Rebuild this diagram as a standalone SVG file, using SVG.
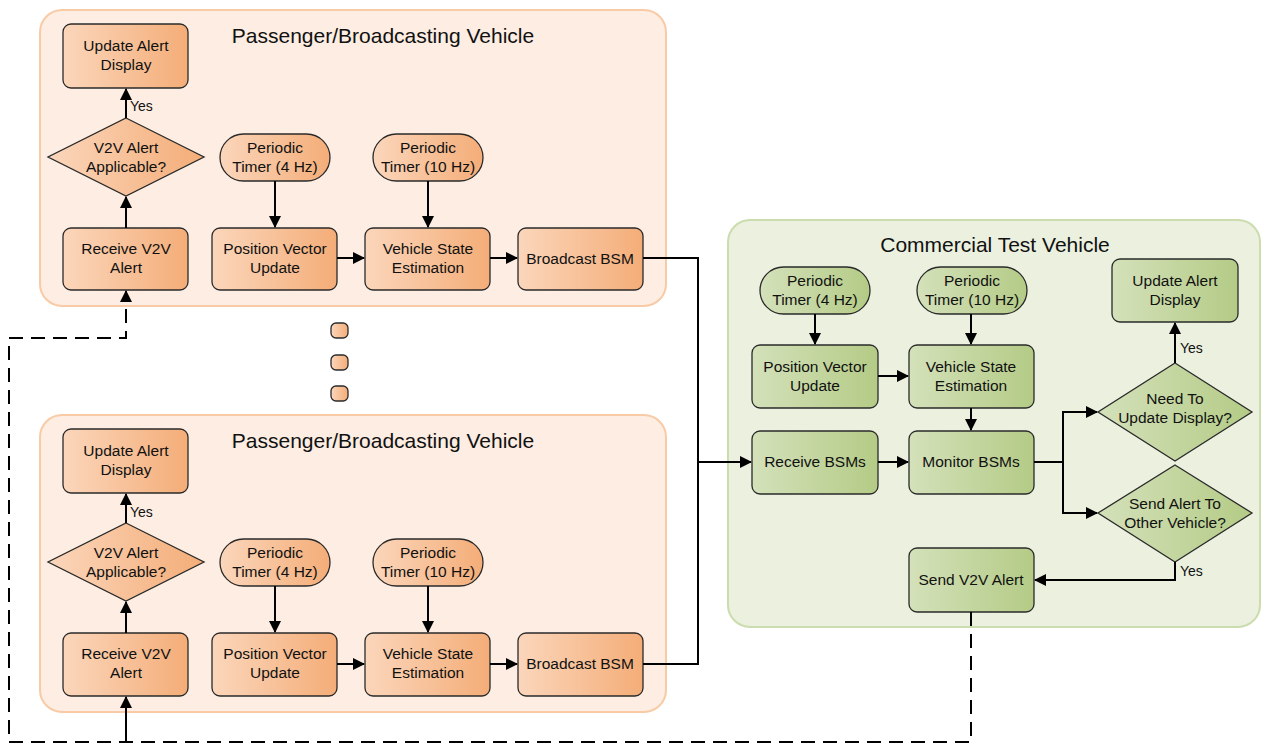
<svg xmlns="http://www.w3.org/2000/svg" width="1262" height="744" viewBox="0 0 1262 744">
<defs>
<linearGradient id="gO" x1="0" y1="0" x2="1" y2="0"><stop offset="0" stop-color="#fbd6bb"/><stop offset="1" stop-color="#f4ad78"/></linearGradient>
<linearGradient id="gG" x1="0" y1="0" x2="1" y2="0"><stop offset="0" stop-color="#d4e1ba"/><stop offset="1" stop-color="#b4cb86"/></linearGradient>
<marker id="ah" markerWidth="12" markerHeight="12" viewBox="0 0 12 12" refX="11" refY="6" orient="auto" markerUnits="userSpaceOnUse"><path d="M0,0 L12,6 L0,12 Z" fill="#000"/></marker>
<style>
.po{fill:#fdede2;stroke:#f8cba6;stroke-width:2}
.pg{fill:#ebf0df;stroke:#cbdcae;stroke-width:2}
.o{fill:url(#gO);stroke:#2a2a2a;stroke-width:1.3}
.g{fill:url(#gG);stroke:#2a2a2a;stroke-width:1.3}
text{font-family:"Liberation Sans",Arial,sans-serif;fill:#111;text-anchor:middle}
.t{font-size:15.5px}
.h{font-size:21px}
.y{font-size:14px;text-anchor:start}
.c{fill:none;stroke:#000;stroke-width:2}
.d{fill:none;stroke:#000;stroke-width:2;stroke-dasharray:14 8}
</style>
</defs>

<g id="panel-top"><rect class="po" x="40" y="10" width="626" height="296" rx="22"/><text class="h" x="383" y="43">Passenger/Broadcasting Vehicle</text></g>
<g id="panel-bottom"><rect class="po" x="40" y="415" width="626" height="297" rx="22"/><text class="h" x="383" y="448">Passenger/Broadcasting Vehicle</text></g>
<g id="panel-right"><rect class="pg" x="728" y="220" width="532" height="407" rx="22"/><text class="h" x="995" y="252">Commercial Test Vehicle</text></g>

<g id="dots">
<rect class="o" x="331" y="323" width="17" height="15" rx="5"/>
<rect class="o" x="331" y="355" width="17" height="15" rx="5"/>
<rect class="o" x="331" y="386" width="17" height="15" rx="5"/>
</g>

<!-- Top passenger vehicle -->
<g id="t-update"><rect class="o" x="63" y="24" width="125" height="64" rx="8"/><text class="t" x="126" y="51">Update Alert</text><text class="t" x="126" y="70">Display</text></g>
<g id="t-applicable"><path class="o" d="M126,118 L204,157 L126,196 L48,157 Z"/><text class="t" x="126" y="153">V2V Alert</text><text class="t" x="126" y="172">Applicable?</text></g>
<g id="t-receive"><rect class="o" x="63" y="228" width="125" height="62" rx="8"/><text class="t" x="126" y="254">Receive V2V</text><text class="t" x="126" y="273">Alert</text></g>
<g id="t-timer4"><rect class="o" x="220" y="134" width="110" height="47" rx="23.5"/><text class="t" x="275" y="153">Periodic</text><text class="t" x="275" y="172">Timer (4 Hz)</text></g>
<g id="t-pvu"><rect class="o" x="212" y="228" width="125" height="62" rx="8"/><text class="t" x="275" y="254">Position Vector</text><text class="t" x="275" y="273">Update</text></g>
<g id="t-timer10"><rect class="o" x="373" y="134" width="110" height="47" rx="23.5"/><text class="t" x="428" y="153">Periodic</text><text class="t" x="428" y="172">Timer (10 Hz)</text></g>
<g id="t-vse"><rect class="o" x="365" y="228" width="125" height="62" rx="8"/><text class="t" x="428" y="254">Vehicle State</text><text class="t" x="428" y="273">Estimation</text></g>
<g id="t-bsm"><rect class="o" x="518" y="228" width="125" height="62" rx="8"/><text class="t" x="580" y="264">Broadcast BSM</text></g>

<!-- Bottom passenger vehicle -->
<g id="b-update"><rect class="o" x="63" y="429" width="125" height="64" rx="8"/><text class="t" x="126" y="456">Update Alert</text><text class="t" x="126" y="475">Display</text></g>
<g id="b-applicable"><path class="o" d="M126,523 L204,562 L126,601 L48,562 Z"/><text class="t" x="126" y="558">V2V Alert</text><text class="t" x="126" y="577">Applicable?</text></g>
<g id="b-receive"><rect class="o" x="63" y="633" width="125" height="63" rx="8"/><text class="t" x="126" y="659">Receive V2V</text><text class="t" x="126" y="678">Alert</text></g>
<g id="b-timer4"><rect class="o" x="220" y="539" width="110" height="47" rx="23.5"/><text class="t" x="275" y="558">Periodic</text><text class="t" x="275" y="577">Timer (4 Hz)</text></g>
<g id="b-pvu"><rect class="o" x="212" y="633" width="125" height="63" rx="8"/><text class="t" x="275" y="659">Position Vector</text><text class="t" x="275" y="678">Update</text></g>
<g id="b-timer10"><rect class="o" x="373" y="539" width="110" height="47" rx="23.5"/><text class="t" x="428" y="558">Periodic</text><text class="t" x="428" y="577">Timer (10 Hz)</text></g>
<g id="b-vse"><rect class="o" x="365" y="633" width="125" height="63" rx="8"/><text class="t" x="428" y="659">Vehicle State</text><text class="t" x="428" y="678">Estimation</text></g>
<g id="b-bsm"><rect class="o" x="518" y="633" width="125" height="63" rx="8"/><text class="t" x="580" y="669">Broadcast BSM</text></g>

<!-- Commercial test vehicle -->
<g id="c-timer4"><rect class="g" x="760" y="267" width="110" height="47" rx="23.5"/><text class="t" x="815" y="286">Periodic</text><text class="t" x="815" y="305">Timer (4 Hz)</text></g>
<g id="c-timer10"><rect class="g" x="917" y="267" width="110" height="47" rx="23.5"/><text class="t" x="972" y="286">Periodic</text><text class="t" x="972" y="305">Timer (10 Hz)</text></g>
<g id="c-pvu"><rect class="g" x="752" y="345" width="126" height="63" rx="8"/><text class="t" x="815" y="372">Position Vector</text><text class="t" x="815" y="391">Update</text></g>
<g id="c-vse"><rect class="g" x="909" y="345" width="125" height="63" rx="8"/><text class="t" x="971" y="372">Vehicle State</text><text class="t" x="971" y="391">Estimation</text></g>
<g id="c-receive"><rect class="g" x="752" y="431" width="126" height="63" rx="8"/><text class="t" x="815" y="467">Receive BSMs</text></g>
<g id="c-monitor"><rect class="g" x="909" y="431" width="125" height="63" rx="8"/><text class="t" x="971" y="467">Monitor BSMs</text></g>
<g id="c-send"><rect class="g" x="909" y="548" width="125" height="64" rx="8"/><text class="t" x="971" y="585">Send V2V Alert</text></g>
<g id="c-update"><rect class="g" x="1112" y="259" width="126" height="63" rx="8"/><text class="t" x="1175" y="286">Update Alert</text><text class="t" x="1175" y="305">Display</text></g>
<g id="c-need"><path class="g" d="M1175,363 L1252,412 L1175,461 L1098,412 Z"/><text class="t" x="1175" y="404">Need To</text><text class="t" x="1175" y="423">Update Display?</text></g>
<g id="c-sendq"><path class="g" d="M1175,465 L1252,513 L1175,562 L1098,513 Z"/><text class="t" x="1175" y="509">Send Alert To</text><text class="t" x="1175" y="528">Other Vehicle?</text></g>

<g id="connectors">
<!-- top panel -->
<path class="c" d="M126,228 V197" marker-end="url(#ah)"/>
<path class="c" d="M126,118 V89" marker-end="url(#ah)"/>
<path class="c" d="M275,181 V227" marker-end="url(#ah)"/>
<path class="c" d="M428,181 V227" marker-end="url(#ah)"/>
<path class="c" d="M337,258 H364" marker-end="url(#ah)"/>
<path class="c" d="M490,258 H517" marker-end="url(#ah)"/>
<!-- bottom panel -->
<path class="c" d="M126,633 V602" marker-end="url(#ah)"/>
<path class="c" d="M126,523 V494" marker-end="url(#ah)"/>
<path class="c" d="M275,586 V632" marker-end="url(#ah)"/>
<path class="c" d="M428,586 V632" marker-end="url(#ah)"/>
<path class="c" d="M337,664 H364" marker-end="url(#ah)"/>
<path class="c" d="M490,664 H517" marker-end="url(#ah)"/>
<!-- BSM broadcast to commercial -->
<path class="c" d="M643,258 H698 V664 H643"/>
<path class="c" d="M698,462 H751" marker-end="url(#ah)"/>
<!-- commercial -->
<path class="c" d="M815,314 V344" marker-end="url(#ah)"/>
<path class="c" d="M971,314 V344" marker-end="url(#ah)"/>
<path class="c" d="M878,376 H908" marker-end="url(#ah)"/>
<path class="c" d="M971,408 V430" marker-end="url(#ah)"/>
<path class="c" d="M878,462 H908" marker-end="url(#ah)"/>
<path class="c" d="M1034,462 H1063 V412 H1097" marker-end="url(#ah)"/>
<path class="c" d="M1063,462 V513 H1097" marker-end="url(#ah)"/>
<path class="c" d="M1175,363 V323" marker-end="url(#ah)"/>
<path class="c" d="M1175,562 V580 H1035" marker-end="url(#ah)"/>
<!-- V2V alert dashed -->
<path class="d" d="M971,612 V742 H9 V338 H126 V291" marker-end="url(#ah)"/>
<path class="c" d="M126,742 V697" marker-end="url(#ah)"/>
<!-- labels -->
<text class="y" x="130" y="111">Yes</text>
<text class="y" x="130" y="517">Yes</text>
<text class="y" x="1180" y="353">Yes</text>
<text class="y" x="1180" y="576">Yes</text>
</g>
</svg>
